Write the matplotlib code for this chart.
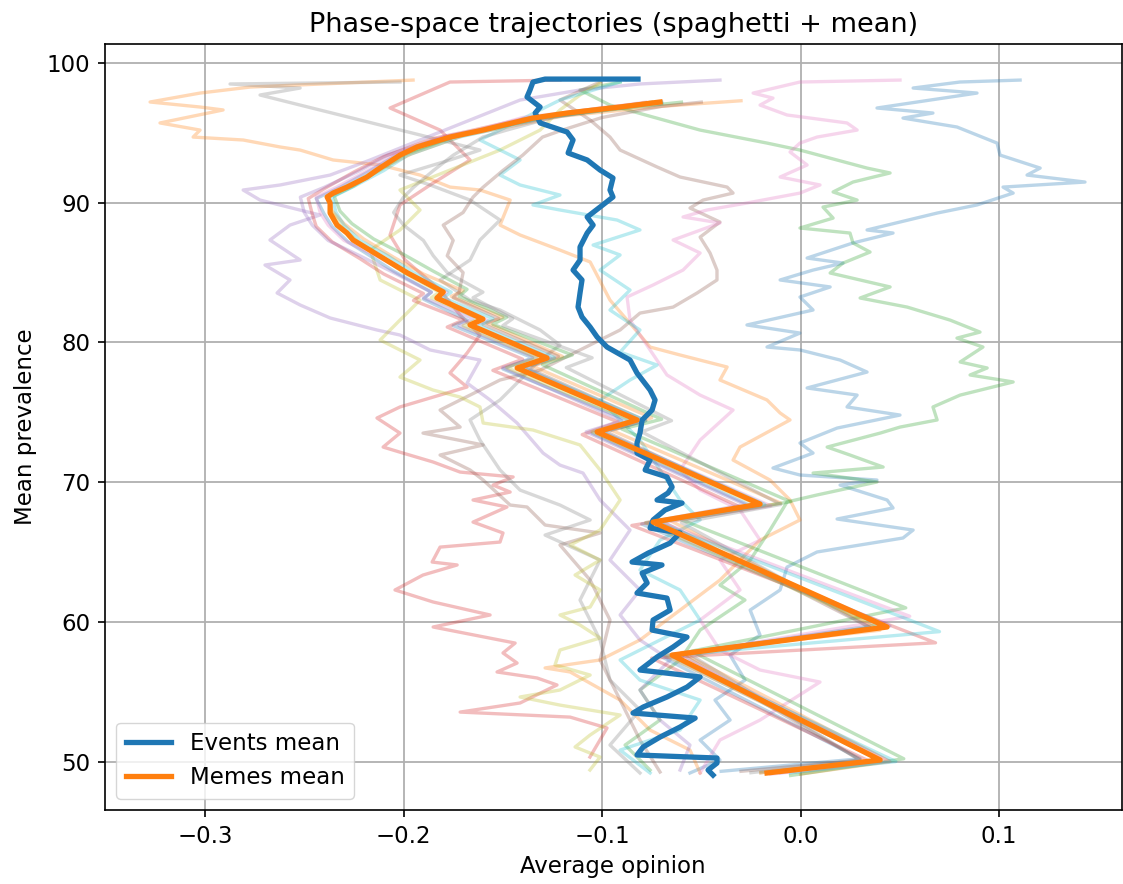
import matplotlib
matplotlib.use("Agg")
import matplotlib.pyplot as plt

# ---------------- mean trajectories ----------------
events_mean_x = [-0.0441, -0.0466, -0.0421, -0.0421, -0.0824, -0.0793, -0.0708, -0.0607, -0.0531, -0.0844,
                 -0.0793, -0.0673, -0.0572, -0.0506, -0.0809, -0.0723, -0.0642, -0.0572, -0.0748, -0.0743,
                 -0.0657, -0.0673, -0.0824, -0.0773, -0.0798, -0.0698, -0.0849, -0.0768, -0.0657, -0.0607,
                 -0.0758, -0.0743, -0.0683, -0.0597, -0.0723, -0.0668, -0.0647, -0.0673, -0.0783, -0.0758,
                 -0.0824, -0.0824, -0.0809, -0.0798, -0.0748, -0.0733, -0.0758, -0.0824, -0.0859, -0.0975,
                 -0.1025, -0.1060, -0.1101, -0.1121, -0.1111, -0.1101, -0.1146, -0.1111, -0.1111, -0.1075,
                 -0.1045, -0.1075, -0.1010, -0.0945, -0.0960, -0.0945, -0.1010, -0.1075, -0.1171, -0.1146,
                 -0.1176, -0.1312, -0.1337, -0.1312, -0.1378, -0.1363, -0.1348, -0.1287, -0.0819]
events_mean_y = [49.03, 49.39, 49.89, 50.25, 50.47, 51.04, 51.75, 52.47, 53.11, 53.47,
                 53.90, 54.62, 55.33, 56.05, 56.55, 57.48, 58.20, 58.91, 59.41, 60.13,
                 60.84, 61.70, 62.06, 62.78, 63.49, 64.07, 64.28, 64.92, 65.64, 66.36,
                 66.71, 67.29, 68.00, 68.50, 68.72, 69.22, 69.65, 70.37, 70.87, 71.58,
                 72.08, 72.80, 73.51, 74.45, 75.16, 75.88, 76.59, 77.81, 78.74, 79.67,
                 80.39, 81.10, 81.82, 82.53, 83.54, 84.47, 85.18, 85.90, 86.83, 87.83,
                 88.40, 88.98, 89.69, 90.41, 90.91, 91.77, 92.34, 93.06, 93.56, 94.49,
                 95.06, 95.71, 96.42, 96.85, 97.57, 98.07, 98.64, 98.85, 98.85]

memes_mean_x = [-0.0169, 0.0401, -0.0647, 0.0436, -0.0743, -0.0204, -0.1025, -0.0824, -0.1428, -0.1277,
                -0.1665, -0.1600, -0.1832, -0.1800, -0.1980, -0.2120, -0.2254, -0.2285, -0.2335, -0.2370,
                -0.2370, -0.2385, -0.2355, -0.2285, -0.2184, -0.2134, -0.2018, -0.1932, -0.1766, -0.1600,
                -0.1348, -0.1176, -0.0909, -0.0708]
memes_mean_y = [49.18, 50.11, 57.62, 59.63, 67.14, 68.43, 73.59, 74.45, 78.17, 78.88,
                81.25, 81.67, 83.18, 83.61, 84.97, 86.18, 87.33, 87.83, 88.40, 89.26,
                89.98, 90.41, 90.69, 91.12, 91.84, 92.34, 93.41, 93.99, 94.70, 95.20,
                96.06, 96.42, 96.85, 97.21]

# ---------------- events runs (spaghetti) ----------------
ev0_x = [-0.0557, -0.0406, -0.0506, -0.0355, -0.0431, -0.0280, -0.0355, -0.0204, -0.0254, -0.0103,
         -0.0068, 0.0083, 0.0516, 0.0567, 0.0184, 0.0466, 0.0436, 0.0199, 0.0385, -0.0003,
         -0.0139, 0.0063, -0.0003, 0.0184, 0.0501, 0.0234, 0.0285, 0.0033, 0.0335, 0.0199,
         -0.0003, -0.0169, -0.0003, -0.0270, 0.0063, -0.0003, 0.0149, -0.0103, 0.0063, 0.0214,
         0.0033, 0.0264, 0.0466, 0.0335, 0.0688, 0.0889, 0.1071, 0.1020, 0.1433, 0.1141,
         0.1207, 0.1005, 0.0990, 0.0788, 0.0516, 0.0667, 0.0385, 0.0889, 0.0567, 0.0803, 0.1106]
ev0_y = [49.18, 50.11, 51.54, 52.97, 54.40, 55.83, 57.62, 59.05, 60.84, 62.28,
         63.92, 65.00, 66.00, 66.57, 67.36, 68.15, 68.72, 69.79, 70.15, 70.51,
         71.01, 72.08, 72.80, 73.87, 74.80, 75.38, 76.23, 76.74, 77.88, 78.74,
         79.46, 79.67, 80.67, 81.25, 82.32, 83.25, 83.97, 84.47, 85.18, 85.68,
         86.04, 87.12, 87.83, 88.05, 89.26, 89.84, 90.69, 91.12, 91.48, 91.98,
         92.48, 93.41, 94.27, 95.42, 96.06, 96.42, 96.78, 97.85, 98.21, 98.64, 98.78]

ev1_x = [-0.0506, -0.0557, -0.0758, -0.0909, -0.1161, -0.1287, -0.1010, -0.0809, -0.0607, -0.0406,
         -0.0305, -0.0204, -0.0003, -0.0053, -0.0154, -0.0340, -0.0305, -0.0053, -0.0103, -0.0169,
         -0.0406, -0.0370, -0.0607, -0.0758, -0.0809, -0.0960, -0.1060, -0.1212, -0.1413, -0.1514,
         -0.1463, -0.1615, -0.1766, -0.1917, -0.2118, -0.2355, -0.2521, -0.2622, -0.2808, -0.3060,
         -0.3025, -0.3227, -0.2909, -0.3025, -0.3277, -0.3025, -0.2773, -0.1952]
ev1_y = [49.18, 50.82, 52.25, 54.40, 56.41, 56.70, 57.27, 58.70, 60.84, 62.99,
         64.42, 65.85, 67.29, 68.72, 70.15, 71.58, 72.51, 74.45, 74.95, 75.88,
         77.31, 78.24, 79.10, 79.67, 80.53, 83.03, 85.76, 86.61, 87.69, 88.40,
         90.19, 90.91, 91.12, 91.98, 92.70, 93.06, 93.77, 93.99, 94.49, 94.70,
         95.20, 95.71, 96.64, 96.85, 97.21, 97.85, 98.28, 98.78]

ev2_x = [-0.0758, -0.0884, -0.0708, -0.0809, -0.0607, -0.0506, -0.0280, -0.0406, -0.0254, -0.0154,
         -0.0068, 0.0083, 0.0385, 0.0063, 0.0416, 0.0249, 0.0134, 0.0401, 0.0501, 0.0688,
         0.0667, 0.0804, 0.1071, 0.0854, 0.0940, 0.0804, 0.0919, 0.0788, 0.0904, 0.0753,
         0.0537, 0.0300, 0.0451, 0.0149, 0.0214, 0.0350, 0.0264, 0.0249, -0.0003, 0.0164,
         0.0113, 0.0285, 0.0164, 0.0264, 0.0451, 0.0335, -0.0003, -0.0169, -0.0506, -0.0743,
         -0.0960, -0.1111, -0.0909]
ev2_y = [49.39, 51.18, 52.97, 55.12, 57.27, 59.41, 61.56, 62.63, 64.42, 66.57,
         68.58, 69.08, 70.01, 70.65, 71.08, 71.94, 72.51, 73.51, 73.94, 74.45,
         75.38, 76.23, 77.17, 77.67, 78.17, 78.60, 79.67, 80.31, 80.74, 81.60,
         82.53, 83.18, 83.97, 84.97, 85.68, 86.47, 87.12, 87.83, 88.19, 88.90,
         89.69, 90.19, 90.77, 91.48, 92.13, 92.48, 93.77, 94.27, 95.20, 96.13,
         96.99, 98.07, 98.64]

ev3_x = [-0.1061, -0.0975, -0.1161, -0.1715, -0.1413, -0.1227, -0.1327, -0.1529, -0.1428, -0.1499,
         -0.1438, -0.1851, -0.1564, -0.1851, -0.2043, -0.1902, -0.1730, -0.1856, -0.1816, -0.1514,
         -0.1499, -0.1650, -0.1479, -0.1650, -0.1463, -0.1549, -0.1448, -0.1715, -0.1851, -0.2003,
         -0.2103, -0.2018, -0.2134, -0.2018, -0.1680, -0.1766, -0.1680, -0.1615, -0.1715, -0.1816,
         -0.1992, -0.2068, -0.2018, -0.1866, -0.1665, -0.1816, -0.2068, -0.1917, -0.1766, -0.1212]
ev3_y = [50.32, 52.40, 53.18, 53.54, 54.19, 55.48, 55.98, 56.41, 57.05, 57.77,
         58.48, 59.63, 60.49, 61.42, 62.28, 63.35, 64.07, 64.28, 65.35, 65.71,
         66.36, 67.14, 68.22, 68.72, 69.29, 69.79, 70.37, 70.72, 71.44, 72.08,
         72.51, 73.51, 74.59, 75.38, 76.81, 77.81, 79.24, 80.53, 81.96, 83.75,
         85.90, 87.69, 89.84, 91.27, 93.06, 95.20, 96.78, 97.71, 98.64, 98.78]

ev4_x = [-0.0607, -0.0557, -0.0708, -0.0809, -0.0657, -0.0809, -0.0909, -0.0809, -0.0960, -0.0859,
         -0.1010, -0.1096, -0.1212, -0.1297, -0.1428, -0.1564, -0.1680, -0.1615, -0.1866, -0.2018,
         -0.2134, -0.2370, -0.2521, -0.2637, -0.2572, -0.2698, -0.2521, -0.2673, -0.2572, -0.2421,
         -0.2723, -0.2808, -0.2622, -0.2370, -0.2168, -0.1917, -0.1665, -0.1413, -0.1111, -0.0809,
         -0.0406]
ev4_y = [49.39, 51.18, 52.97, 55.12, 57.27, 58.70, 60.49, 62.28, 64.42, 66.57,
         68.72, 70.65, 71.22, 72.08, 74.23, 75.88, 77.09, 78.74, 79.46, 80.53,
         80.89, 81.75, 82.68, 83.54, 84.47, 85.54, 85.90, 87.33, 88.40, 89.12,
         90.19, 90.91, 91.27, 91.98, 93.06, 94.49, 95.92, 97.35, 98.07, 98.50,
         98.78]

ev5_x = [-0.0708, -0.0809, -0.0909, -0.1010, -0.0960, -0.1060, -0.1212, -0.1010, -0.1287, -0.1378,
         -0.1463, -0.1599, -0.1665, -0.1816, -0.1599, -0.1902, -0.1715, -0.1816, -0.1665, -0.1514,
         -0.1312, -0.1111, -0.0909, -0.0809, -0.0642, -0.0521, -0.0421, -0.0421, -0.0456, -0.0506,
         -0.0406, -0.0557, -0.0491, -0.0340, -0.0370, -0.0607, -0.0723, -0.0909, -0.0960, -0.1060,
         -0.1212, -0.1010]
ev5_y = [49.25, 51.54, 54.40, 57.27, 60.13, 62.99, 65.50, 66.36, 66.93, 68.22,
         68.36, 70.15, 70.87, 71.94, 72.66, 73.51, 73.94, 75.16, 76.23, 77.31,
         78.02, 79.46, 80.89, 82.10, 82.53, 83.54, 84.47, 85.18, 86.40, 87.54,
         88.62, 89.62, 90.19, 90.69, 91.12, 91.84, 92.56, 93.77, 94.70, 95.92,
         97.35, 98.64]

ev6_x = [-0.0506, -0.0406, -0.0204, 0.0098, -0.0204, -0.0406, -0.0506, -0.0305, -0.0406, -0.0204,
         -0.0305, -0.0506, -0.0607, -0.0506, -0.0340, -0.0506, -0.0673, -0.0758, -0.0859, -0.0874,
         -0.0743, -0.0592, -0.0506, -0.0642, -0.0406, -0.0592, -0.0471, -0.0270, -0.0003, 0.0098,
         -0.0103, 0.0033, -0.0053, -0.0003, 0.0083, 0.0285, 0.0234, -0.0068, -0.0204, -0.0139,
         -0.0239, -0.0003, 0.0501]
ev6_y = [49.18, 51.54, 52.97, 55.69, 56.55, 57.98, 60.13, 62.28, 64.42, 65.85,
         68.00, 69.43, 70.87, 73.01, 75.16, 76.23, 77.67, 79.46, 81.60, 83.25,
         84.11, 85.18, 86.40, 87.33, 88.55, 88.98, 89.48, 89.98, 90.69, 91.27,
         91.84, 92.70, 93.63, 94.27, 94.70, 95.20, 95.71, 96.28, 96.99, 97.49,
         97.85, 98.64, 98.78]

ev7_x = [-0.0809, -0.0960, -0.0809, -0.0960, -0.1010, -0.1111, -0.1010, -0.1287, -0.1060, -0.1212,
         -0.1413, -0.1514, -0.1615, -0.1665, -0.1514, -0.1413, -0.1312, -0.1212, -0.1312, -0.1514,
         -0.1665, -0.1816, -0.1665, -0.1615, -0.1514, -0.1665, -0.1866, -0.2018, -0.1766, -0.1615,
         -0.1917, -0.2219, -0.2521, -0.2723, -0.2521, -0.2874, -0.2018]
ev7_y = [49.18, 51.18, 53.69, 55.83, 58.70, 61.56, 64.42, 66.21, 67.29, 68.36,
         69.43, 70.87, 73.01, 74.45, 75.88, 77.31, 78.74, 79.81, 80.89, 82.32,
         83.03, 84.47, 85.90, 87.33, 88.76, 90.19, 91.27, 91.98, 93.06, 93.77,
         94.85, 95.92, 96.99, 97.71, 98.21, 98.50, 98.64]

ev8_x = [-0.1061, -0.1010, -0.1136, -0.1060, -0.0909, -0.1212, -0.1413, -0.1212, -0.1060, -0.1237,
         -0.1212, -0.1010, -0.1111, -0.1212, -0.1060, -0.1010, -0.1136, -0.1010, -0.1161, -0.1010,
         -0.0909, -0.1010, -0.1111, -0.1348, -0.1599, -0.1615, -0.1715, -0.1851, -0.2018, -0.1917,
         -0.2118, -0.2018, -0.1917, -0.2118, -0.2168, -0.2018, -0.1917, -0.2018, -0.1766, -0.1514,
         -0.1312, -0.1212, -0.1111, -0.1010]
ev8_y = [49.39, 50.32, 51.04, 51.90, 53.33, 54.04, 54.62, 55.12, 56.19, 56.91,
         57.98, 58.84, 59.77, 60.49, 61.06, 62.28, 63.35, 64.42, 65.50, 66.57,
         68.72, 70.87, 72.66, 73.73, 74.23, 75.38, 76.09, 76.59, 77.52, 78.74,
         80.17, 81.60, 83.03, 84.47, 86.61, 88.05, 89.48, 90.91, 92.34, 93.77,
         95.20, 96.64, 97.71, 98.57]

ev9_x = [-0.0758, -0.0909, -0.0607, -0.0506, -0.0809, -0.0909, -0.0708, -0.0506, -0.0607, -0.0809,
         -0.0708, -0.0506, -0.0607, -0.0708, -0.0809, -0.0909, -0.1010, -0.0859, -0.0723, -0.0909,
         -0.0809, -0.0960, -0.0859, -0.1010, -0.0909, -0.1045, -0.0809, -0.0924, -0.1212, -0.1348,
         -0.1212, -0.1413, -0.1514, -0.1413, -0.1615, -0.1413, -0.1212, -0.1010, -0.0909]
ev9_y = [49.18, 50.82, 52.25, 54.40, 55.83, 57.27, 58.70, 60.13, 62.28, 63.71,
         65.85, 67.29, 68.72, 70.87, 73.01, 74.45, 75.88, 77.31, 78.38, 79.31,
         80.89, 82.32, 83.75, 85.18, 86.26, 86.97, 88.05, 88.76, 89.48, 89.84,
         90.55, 91.27, 91.98, 93.06, 94.49, 95.92, 97.35, 98.21, 98.64]

# ---------------- memes runs (spaghetti) ----------------
mm0_x = [-0.040, 0.030, -0.070, 0.040, -0.080, -0.025, -0.105, -0.085, -0.150, -0.135, -0.175, -0.168, -0.190, -0.186,
         -0.205, -0.218, -0.228, -0.236, -0.240, -0.244, -0.232, -0.218, -0.205, -0.180, -0.160, -0.130, -0.095, -0.070]
mm0_y = [49.3, 50.2, 57.5, 59.8, 67.0, 68.3, 73.5, 74.3, 78.1, 78.9, 81.2, 81.6, 83.1, 83.6,
         85.1, 86.3, 87.2, 88.3, 89.2, 90.3, 91.1, 92.2, 93.3, 94.6, 95.2, 96.0, 96.8, 97.1]
mm1_x = [0.000, 0.045, -0.060, 0.040, -0.065, -0.010, -0.095, -0.075, -0.135, -0.120, -0.158, -0.150, -0.176, -0.170,
         -0.190, -0.205, -0.220, -0.230, -0.236, -0.238, -0.226, -0.212, -0.196, -0.170, -0.152, -0.120, -0.070, -0.030]
mm1_y = [49.1, 50.0, 57.8, 59.4, 67.2, 68.5, 73.7, 74.6, 78.3, 79.0, 81.4, 81.8, 83.3, 83.7,
         84.9, 86.1, 87.4, 88.5, 89.4, 90.5, 91.2, 92.4, 93.5, 94.8, 95.3, 96.2, 96.9, 97.3]
mm2_x = [-0.005, 0.052, -0.055, 0.053, -0.060, -0.005, -0.090, -0.070, -0.130, -0.115, -0.155, -0.148, -0.172, -0.168,
         -0.185, -0.200, -0.215, -0.226, -0.232, -0.235, -0.225, -0.212, -0.200, -0.175, -0.160, -0.130, -0.080, -0.060]
mm2_y = [49.0, 50.2, 57.9, 61.0, 67.3, 68.6, 73.8, 74.5, 78.4, 79.1, 81.3, 81.8, 83.3, 83.8,
         85.1, 86.3, 87.4, 88.5, 89.4, 90.5, 91.2, 92.4, 93.5, 94.7, 95.2, 96.1, 96.9, 97.2]
mm3_x = [-0.020, 0.035, -0.075, 0.068, -0.085, -0.030, -0.110, -0.092, -0.155, -0.140, -0.178, -0.170, -0.195, -0.190,
         -0.210, -0.222, -0.236, -0.244, -0.246, -0.248, -0.240, -0.225, -0.210, -0.185, -0.168, -0.140, -0.100, -0.080]
mm3_y = [49.2, 50.0, 57.4, 58.5, 66.9, 68.2, 73.4, 74.3, 78.0, 78.8, 81.1, 81.6, 83.0, 83.5,
         84.9, 86.0, 87.2, 88.3, 89.2, 90.3, 91.0, 92.2, 93.3, 94.6, 95.1, 96.0, 96.8, 97.1]
mm4_x = [-0.010, 0.040, -0.068, 0.045, -0.078, -0.028, -0.108, -0.090, -0.150, -0.133, -0.172, -0.165, -0.190, -0.186,
         -0.205, -0.222, -0.238, -0.246, -0.250, -0.252, -0.240, -0.222, -0.208, -0.180, -0.162, -0.135, -0.095, -0.075]
mm4_y = [49.2, 50.1, 57.6, 59.7, 67.1, 68.4, 73.6, 74.4, 78.2, 78.9, 81.2, 81.7, 83.2, 83.6,
         85.0, 86.2, 87.3, 88.4, 89.3, 90.4, 91.1, 92.3, 93.4, 94.7, 95.2, 96.1, 96.8, 97.2]
mm5_x = [-0.030, 0.030, -0.060, 0.035, -0.070, -0.020, -0.098, -0.078, -0.138, -0.122, -0.160, -0.152, -0.175, -0.172,
         -0.170, -0.178, -0.175, -0.180, -0.170, -0.165, -0.160, -0.150, -0.140, -0.130, -0.120, -0.100, -0.070, -0.050]
mm5_y = [49.3, 50.1, 57.7, 59.6, 67.2, 68.4, 73.6, 74.4, 78.2, 79.0, 81.3, 81.7, 83.2, 83.6,
         85.0, 86.2, 87.3, 88.4, 89.3, 90.4, 91.1, 92.3, 93.4, 94.7, 95.2, 96.1, 96.9, 97.2]
mm6_x = [-0.015, 0.045, -0.062, 0.055, -0.070, -0.015, -0.100, -0.080, -0.140, -0.126, -0.165, -0.158, -0.182, -0.178,
         -0.198, -0.214, -0.230, -0.238, -0.242, -0.244, -0.234, -0.218, -0.205, -0.180, -0.162, -0.140, -0.098, -0.078]
mm6_y = [49.1, 50.0, 57.6, 60.4, 67.1, 68.3, 73.6, 74.4, 78.2, 78.9, 81.2, 81.6, 83.2, 83.6,
         85.0, 86.2, 87.3, 88.4, 89.3, 90.4, 91.1, 92.3, 93.4, 94.7, 95.2, 96.1, 96.8, 97.2]
mm7_x = [-0.025, 0.030, -0.055, 0.035, -0.060, -0.010, -0.080, -0.065, -0.118, -0.105, -0.150, -0.145, -0.165, -0.160,
         -0.178, -0.185, -0.190, -0.200, -0.205, -0.200, -0.195, -0.185, -0.175, -0.160, -0.148, -0.125, -0.090, -0.070]
mm7_y = [49.2, 50.1, 57.6, 59.6, 67.1, 68.4, 73.6, 74.4, 78.2, 78.9, 81.2, 81.7, 83.2, 83.6,
         85.0, 86.2, 87.3, 88.4, 89.3, 90.4, 91.1, 92.3, 93.4, 94.7, 95.2, 96.1, 96.8, 97.2]
mm8_x = [-0.020, 0.040, -0.068, 0.040, -0.078, -0.022, -0.105, -0.085, -0.148, -0.132, -0.170, -0.162, -0.186, -0.182,
         -0.200, -0.212, -0.224, -0.232, -0.236, -0.238, -0.228, -0.212, -0.200, -0.175, -0.160, -0.135, -0.095, -0.075]
mm8_y = [49.2, 50.1, 57.6, 59.6, 67.1, 68.4, 73.6, 74.4, 78.2, 78.9, 81.2, 81.7, 83.2, 83.6,
         85.0, 86.2, 87.3, 88.4, 89.3, 90.4, 91.1, 92.3, 93.4, 94.7, 95.2, 96.1, 96.8, 97.2]
mm9_x = [-0.005, 0.048, -0.065, 0.070, -0.072, -0.018, -0.100, -0.078, -0.140, -0.124, -0.162, -0.155, -0.180, -0.176,
         -0.195, -0.208, -0.222, -0.230, -0.234, -0.236, -0.226, -0.210, -0.198, -0.172, -0.156, -0.130, -0.090, -0.070]
mm9_y = [49.2, 50.0, 57.6, 59.3, 67.1, 68.4, 73.6, 74.4, 78.2, 78.9, 81.2, 81.7, 83.2, 83.6,
         85.0, 86.2, 87.3, 88.4, 89.3, 90.4, 91.1, 92.3, 93.4, 94.7, 95.2, 96.1, 96.8, 97.2]

events_runs = [(ev0_x, ev0_y), (ev1_x, ev1_y), (ev2_x, ev2_y), (ev3_x, ev3_y), (ev4_x, ev4_y),
               (ev5_x, ev5_y), (ev6_x, ev6_y), (ev7_x, ev7_y), (ev8_x, ev8_y), (ev9_x, ev9_y)]
memes_runs = [(mm0_x, mm0_y), (mm1_x, mm1_y), (mm2_x, mm2_y), (mm3_x, mm3_y), (mm4_x, mm4_y),
              (mm5_x, mm5_y), (mm6_x, mm6_y), (mm7_x, mm7_y), (mm8_x, mm8_y), (mm9_x, mm9_y)]

tab10 = plt.get_cmap("tab10").colors

fig = plt.figure(figsize=(11.23, 8.84), dpi=100)
ax = fig.add_axes([0.0935, 0.0837, 0.9052, 0.8665])

for i, (xs, ys) in enumerate(events_runs):
    ax.plot(xs, ys, color=tab10[i % 10], alpha=0.3, lw=2.4)
for i, (xs, ys) in enumerate(memes_runs):
    ax.plot(xs, ys, color=tab10[i % 10], alpha=0.3, lw=2.4)

ax.plot(events_mean_x, events_mean_y, color=tab10[0], lw=3.8, label="Events mean")
ax.plot(memes_mean_x, memes_mean_y, color=tab10[1], lw=3.8, label="Memes mean")

ax.set_xlim(-0.3504, 0.1617)
ax.set_ylim(46.53, 101.36)
ax.set_xticks([-0.3, -0.2, -0.1, 0.0, 0.1])
ax.set_yticks([50, 60, 70, 80, 90, 100])
ax.tick_params(labelsize=16.5, width=1.2, length=5.25, pad=5.25)
ax.grid(True, color="#b0b0b0", lw=1.3)
ax.set_axisbelow(True)
for s in ax.spines.values():
    s.set_linewidth(1.2)

ax.set_xlabel("Average opinion", fontsize=16.5, labelpad=5)
ax.set_ylabel("Mean prevalence", fontsize=16.5, labelpad=7)
ax.set_title("Phase-space trajectories (spaghetti + mean)", fontsize=19.5, pad=9)
ax.legend(loc="lower left", fontsize=16.5, framealpha=0.8)

fig.savefig("out.png", dpi=100)
